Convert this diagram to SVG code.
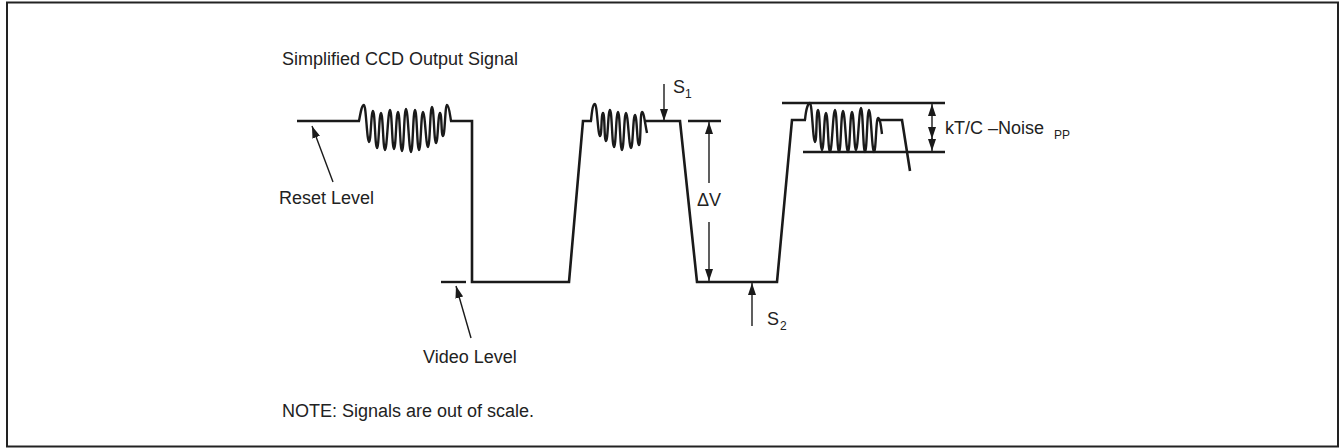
<svg xmlns="http://www.w3.org/2000/svg" width="1340" height="448" viewBox="0 0 1340 448">
<style>
.sig{fill:none;stroke:#1a1a1a;stroke-width:2.6;stroke-linejoin:miter;stroke-linecap:butt}
.nz{fill:none;stroke:#1a1a1a;stroke-width:2.4;stroke-linejoin:round}
.lvl{fill:none;stroke:#1a1a1a;stroke-width:2.4}
.arr{fill:none;stroke:#1a1a1a;stroke-width:1.4}
.t{font-family:"Liberation Sans",Arial,sans-serif;font-size:18px;fill:#222}
.sub{font-family:"Liberation Sans",Arial,sans-serif;font-size:12px;fill:#222}
</style>
<defs>
<marker id="ah" viewBox="0 0 12 8" refX="12" refY="4" markerWidth="12" markerHeight="8" markerUnits="userSpaceOnUse" orient="auto-start-reverse">
<path d="M0,0 L12,4 L0,8 Z" fill="#1a1a1a"/>
</marker>
</defs>
<rect x="7" y="2.5" width="1331" height="444" fill="#fff" stroke="#222" stroke-width="2"/>

<g id="title"><text class="t" x="282" y="65">Simplified CCD Output Signal</text></g>

<g id="signal">
<path class="sig" d="M297,121 L360,121"/>
<path class="nz" d="M359,121 C361,110 362,105 364,105 C366,105 367,142 369,142 C371,142 371,111 373,111 C375,111 375,148 377,148 C379,148 379,113 381,113 C383,113 383,150 385,150 C387,150 388,110 390,110 C392,110 392,149 394,149 C396,149 396,112 398,112 C400,112 400,151 402,151 C404,151 404,109 406,109 C408,109 409,152 411,152 C413,152 413,110 415,110 C417,110 417,150 419,150 C421,150 421,112 423,112 C425,112 426,147 428,147 C430,147 430,107 432,107 C434,107 434,143 436,143 C438,143 438,113 440,113 C442,113 441,136 443,136 C445,136 445,105 447,105 C449,105 450,115 451,121"/>
<path class="sig" d="M450,121 L472,121 L472,282 L569,282 L583,121 L592,121"/>
<path class="nz" d="M591,121 C592,110 593,104 595,104 C597,104 598,136 600,136 C602,136 601,113 603,113 C605,113 604,141 606,141 C608,141 608,110 610,110 C612,110 612,147 614,147 C616,147 616,112 618,112 C620,112 620,150 622,150 C624,150 624,113 626,113 C628,113 629,148 631,148 C633,148 633,115 635,115 C637,115 637,145 639,145 C641,145 640,112 642,112 C644,112 645,124 647,133"/>
<path class="sig" d="M645,121 L680,121 L697,282 L777,282 L792,120 L806,120"/>
<path class="nz" d="M805,120 C806,109 808,103 810,103 C812,103 813,142 815,142 C817,142 816,110 818,110 C820,110 820,150 822,150 C824,150 824,113 826,113 C828,113 828,152 830,152 C832,152 833,110 835,110 C837,110 837,152 839,152 C841,152 841,111 843,111 C845,111 846,152 848,152 C850,152 850,112 852,112 C854,112 854,150 856,150 C858,150 859,108 861,108 C863,108 863,152 865,152 C867,152 867,110 869,110 C871,110 872,152 874,152 C876,152 876,118 878,118 C880,118 881,126 882,134"/>
<path class="sig" d="M878,120 L902,120 L910,171"/>
</g>

<g id="reset-level">
<line class="arr" x1="333" y1="182" x2="312" y2="126" marker-end="url(#ah)"/>
<text class="t" x="279" y="204">Reset Level</text>
</g>

<g id="video-level">
<line class="lvl" x1="441" y1="282" x2="466" y2="282"/>
<line class="arr" x1="471" y1="338" x2="456" y2="286" marker-end="url(#ah)"/>
<text class="t" x="423" y="363">Video Level</text>
</g>

<g id="s1">
<line class="arr" x1="664" y1="84" x2="664" y2="121" marker-end="url(#ah)"/>
<text class="t" x="673" y="93">S</text><text class="sub" x="685" y="98">1</text>
</g>

<g id="delta-v">
<line class="lvl" x1="688" y1="121" x2="721" y2="121"/>
<line class="arr" x1="709" y1="183" x2="709" y2="122" marker-end="url(#ah)"/>
<line class="arr" x1="709" y1="222" x2="709" y2="281" marker-end="url(#ah)"/>
<text class="t" x="697" y="206">ΔV</text>
</g>

<g id="s2">
<line class="arr" x1="752" y1="326" x2="752" y2="283" marker-end="url(#ah)"/>
<text class="t" x="767" y="325">S</text><text class="sub" x="780" y="330">2</text>
</g>

<g id="ktc-noise">
<line class="lvl" x1="782" y1="103" x2="945" y2="103"/>
<line class="lvl" x1="803" y1="152" x2="945" y2="152"/>
<line class="arr" x1="932" y1="116" x2="932" y2="104" marker-end="url(#ah)"/>
<line class="arr" x1="932" y1="116" x2="932" y2="139" marker-end="url(#ah)"/>
<line class="arr" x1="932" y1="138" x2="932" y2="151" marker-end="url(#ah)"/>
<text class="t" x="945" y="134">kT/C –Noise</text><text class="sub" x="1054" y="139">PP</text>
</g>

<g id="note"><text class="t" x="282" y="417">NOTE: Signals are out of scale.</text></g>
</svg>
